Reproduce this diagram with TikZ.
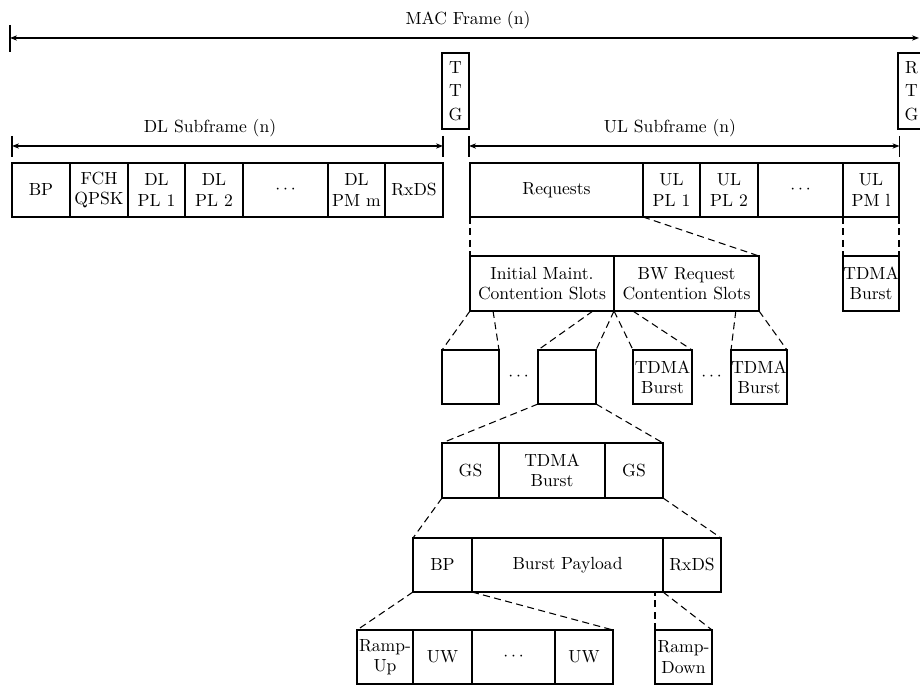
\documentclass[tikz,border=0pt]{standalone}
\usepackage{tikz}
\usetikzlibrary{arrows.meta,calc}

\begin{document}
\begin{tikzpicture}[
  slot/.style={draw,line width=0.7pt,inner sep=0pt,outer sep=0pt,align=center,
    anchor=south west,minimum height=1.08cm,font=\fontsize{10}{11.5}\selectfont},
  gapbox/.style={draw,line width=0.7pt,inner sep=0pt,outer sep=0pt,align=center,
    anchor=north west,minimum width=0.54cm,minimum height=1.52cm,
    font=\fontsize{10}{13.5}\selectfont},
  label/.style={font=\fontsize{10}{12}\selectfont},
  link/.style={line width=0.6pt,dash pattern=on 4pt off 2.5pt},
  dimline/.style={line width=0.6pt,{Stealth[length=4pt,width=3pt]}-{Stealth[length=4pt,width=3pt]}},
  tick/.style={line width=0.6pt}]
\useasboundingbox (0,0) rectangle (18.4,13.72);

\coordinate (macL) at (0.20,12.96);
\coordinate (macR) at (18.38,12.96);
\draw[dimline] (macL) -- (macR);
\draw[tick] ($(macL)+(0,0.26)$) -- ($(macL)+(0,-0.28)$);
\node[label] (mac) at (9.36,13.32) {MAC Frame (n)};

\node[gapbox] (ttg) at (8.84,12.66) {T\\T\\G};
\node[gapbox] (rtg) at (17.96,12.66) {R\\T\\G};

\coordinate (dlL) at (0.24,10.80);
\coordinate (dlR) at (8.86,10.80);
\draw[dimline] (dlL) -- (dlR);
\draw[tick] ($(dlL)+(0,0.20)$) -- ($(dlL)+(0,-0.22)$);
\draw[tick] ($(dlR)+(0,0.20)$) -- ($(dlR)+(0,-0.22)$);
\node[label] (dlsub) at (4.20,11.16) {DL Subframe (n)};

\coordinate (ulL) at (9.38,10.80);
\coordinate (ulR) at (17.99,10.80);
\draw[dimline] (ulL) -- (ulR);
\draw[tick] ($(ulL)+(0,0.20)$) -- ($(ulL)+(0,-0.22)$);
\draw[tick] ($(ulR)+(0,0.20)$) -- ($(ulR)+(0,-0.22)$);
\node[label] (ulsub) at (13.40,11.16) {UL Subframe (n)};

\node[slot,minimum width=1.16cm] (dlbp)   at (0.24,9.38) {BP};
\node[slot,minimum width=1.16cm] (fch)    at (1.40,9.38) {FCH\\QPSK};
\node[slot,minimum width=1.14cm] (dlpl1)  at (2.56,9.38) {DL\\PL 1};
\node[slot,minimum width=1.16cm] (dlpl2)  at (3.70,9.38) {DL\\PL 2};
\node[slot,minimum width=1.70cm] (dldots) at (4.86,9.38) {$\cdots$};
\node[slot,minimum width=1.14cm] (dlpm)   at (6.56,9.38) {DL\\PM m};
\node[slot,minimum width=1.16cm] (dlrxds) at (7.70,9.38) {RxDS};

\node[slot,minimum width=3.46cm] (req)    at (9.40,9.38) {Requests};
\node[slot,minimum width=1.14cm] (ulpl1)  at (12.86,9.38) {UL\\PL 1};
\node[slot,minimum width=1.16cm] (ulpl2)  at (14.00,9.38) {UL\\PL 2};
\node[slot,minimum width=1.70cm] (uldots) at (15.16,9.38) {$\cdots$};
\node[slot,minimum width=1.12cm] (ulpm)   at (16.86,9.38) {UL\\PM l};

\node[slot,minimum width=2.88cm,minimum height=1.10cm] (initial) at (9.40,7.50) {Initial Maint.\\Contention Slots};
\node[slot,minimum width=2.90cm,minimum height=1.10cm] (bwreq)   at (12.28,7.50) {BW Request\\Contention Slots};
\node[slot,minimum width=1.12cm,minimum height=1.10cm] (ultdma)  at (16.86,7.50) {TDMA\\Burst};

\node[slot,minimum width=1.14cm] (slotA)  at (8.84,5.64) {};
\node[slot,minimum width=1.16cm] (slotB)  at (10.76,5.64) {};
\node[slot,minimum width=1.18cm] (burstA) at (12.66,5.64) {TDMA\\Burst};
\node[slot,minimum width=1.12cm] (burstB) at (14.62,5.64) {TDMA\\Burst};
\node (slotdots)  at ($(slotA.east)!0.5!(slotB.west)$) {$\cdots$};
\node (burstdots) at ($(burstA.east)!0.5!(burstB.west)$) {$\cdots$};

\node[slot,minimum width=1.14cm,minimum height=1.10cm] (gsL)  at (8.84,3.76) {GS};
\node[slot,minimum width=2.12cm,minimum height=1.10cm] (tdma) at (9.98,3.76) {TDMA\\Burst};
\node[slot,minimum width=1.16cm,minimum height=1.10cm] (gsR)  at (12.10,3.76) {GS};

\node[slot,minimum width=1.18cm] (bpre)    at (8.26,1.88) {BP};
\node[slot,minimum width=3.82cm] (payload) at (9.44,1.88) {Burst Payload};
\node[slot,minimum width=1.16cm] (rxds)    at (13.26,1.88) {RxDS};

\node[slot,minimum width=1.12cm] (rampup) at (7.14,0.04) {Ramp-\\Up};
\node[slot,minimum width=1.18cm] (uwA)    at (8.26,0.04) {UW};
\node[slot,minimum width=1.66cm] (uwdots) at (9.44,0.04) {$\cdots$};
\node[slot,minimum width=1.16cm] (uwB)    at (11.10,0.04) {UW};
\node[slot,minimum width=1.14cm] (rampdn) at (13.10,0.04) {Ramp-\\Down};

\coordinate (im1) at ($(initial.south west)!0.16!(initial.south east)$);
\coordinate (im2) at ($(initial.south west)!0.854!(initial.south east)$);
\coordinate (bw1) at ($(bwreq.south west)!0.13!(bwreq.south east)$);
\coordinate (bw2) at ($(bwreq.south west)!0.84!(bwreq.south east)$);

\draw[link] (req.south west) -- (initial.north west);
\draw[link] (req.south east) -- (bwreq.north east);
\draw[link] (ulpm.south west) -- (ultdma.north west);
\draw[link] (ulpm.south east) -- (ultdma.north east);
\draw[link] (initial.south west) -- (slotA.north west);
\draw[link] (im1) -- (slotA.north east);
\draw[link] (im2) -- (slotB.north west);
\draw[link] (initial.south east) -- (slotB.north east);
\draw[link] (bwreq.south west) -- (burstA.north west);
\draw[link] (bw1) -- (burstA.north east);
\draw[link] (bw2) -- (burstB.north west);
\draw[link] (bwreq.south east) -- (burstB.north east);
\draw[link] (slotB.south west) -- (gsL.north west);
\draw[link] (slotB.south east) -- (gsR.north east);
\draw[link] (gsL.south west) -- (bpre.north west);
\draw[link] (gsR.south east) -- (rxds.north east);
\draw[link] (bpre.south west) -- (rampup.north west);
\draw[link] (bpre.south east) -- (uwB.north east);
\draw[link] (rampdn.north west) -- (rampdn.north west |- rxds.south);
\draw[link] (rxds.south west) -- (rampdn.north east);
\end{tikzpicture}
\end{document}
